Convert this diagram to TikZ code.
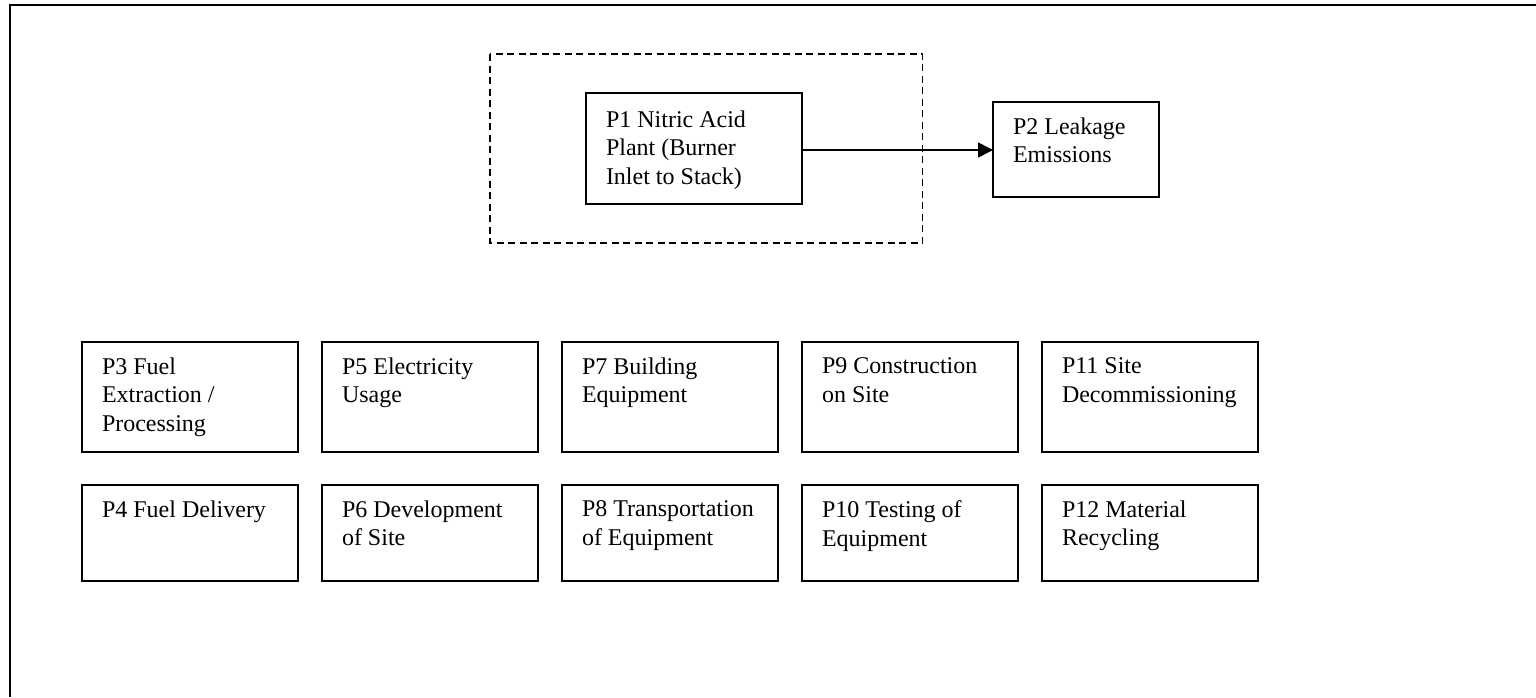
\documentclass[tikz,border=0pt]{standalone}
\usepackage{fontspec}
\setmainfont{Liberation Serif}
\usetikzlibrary{arrows.meta}
\newcommand{\bxt}[4]{\parbox[c][#2pt][t]{#1pt}{\vspace*{#3pt}\raggedright\leftskip=20pt\relax #4}}
\tikzset{
  pbox/.style={draw, line width=1.7pt, inner sep=0pt, outer sep=0pt, anchor=north west,
    font=\fontsize{24pt}{28.2pt}\selectfont},
  frameline/.style={line width=2.6pt},
  boundary/.style={draw, dash pattern=on 7pt off 4.5pt, line width=1.7pt},
  flow/.style={line width=1.6pt, -{Triangle[length=15pt,width=15pt]}}
}
\begin{document}
\begin{tikzpicture}[x=1pt,y=-1pt]
\useasboundingbox (0,0) rectangle (1536,697);
% outer frame (only top and left edges visible)
\coordinate (ftr) at (1536,5);
\coordinate (ftl) at (10,5);
\coordinate (fbl) at (10,697);
\draw[frameline] (ftr) -- (ftl) -- (fbl);
% system boundary
\coordinate (b1) at (490,54);
\coordinate (b2) at (922.5,243);
\draw[boundary] (b1) rectangle (b2);
% top processes
\node[pbox] (p1) at (586,93) {\bxt{216}{111}{18}{P1 Nitric Acid\\Plant (Burner\\Inlet to Stack)}};
\node[pbox] (p2) at (993,102) {\bxt{166}{95}{16}{P2 Leakage\\Emissions}};
\draw[flow] (p1.east |- 0,150) -- (p2.west |- 0,150);
% row 1
\node[pbox] (p3) at (82,342) {\bxt{216}{110}{16}{P3 Fuel\\Extraction /\\Processing}};
\node[pbox] (p5) at (322,342) {\bxt{216}{110}{16}{P5 Electricity\\Usage}};
\node[pbox] (p7) at (562,342) {\bxt{216}{110}{16}{P7 Building\\Equipment}};
\node[pbox] (p9) at (802,342) {\bxt{216}{110}{16}{P9 Construction\\on Site}};
\node[pbox] (p11) at (1042,342) {\bxt{216}{110}{16}{P11 Site\\Decommissioning}};
% row 2
\node[pbox] (p4) at (82,485) {\bxt{216}{96}{16}{P4 Fuel Delivery}};
\node[pbox] (p6) at (322,485) {\bxt{216}{96}{16}{P6 Development\\of Site}};
\node[pbox] (p8) at (562,485) {\bxt{216}{96}{16}{P8 Transportation\\of Equipment}};
\node[pbox] (p10) at (802,485) {\bxt{216}{96}{16}{P10 Testing of\\Equipment}};
\node[pbox] (p12) at (1042,485) {\bxt{216}{96}{16}{P12 Material\\Recycling}};
\end{tikzpicture}
\end{document}
